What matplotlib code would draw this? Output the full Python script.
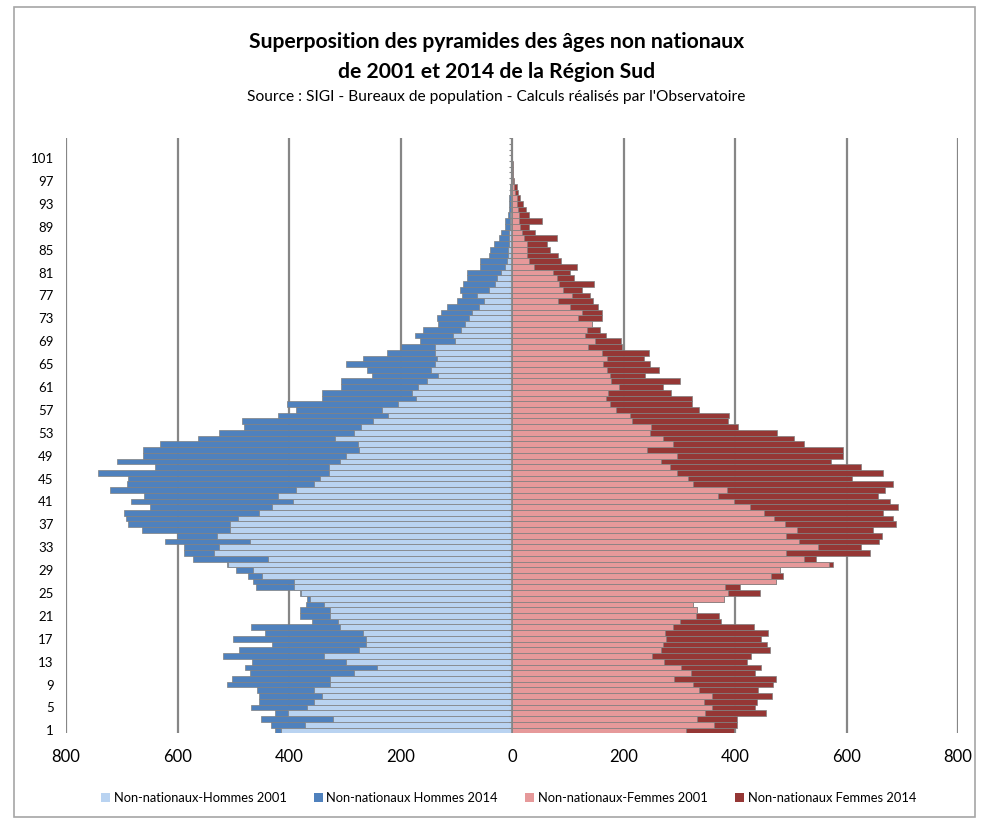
import numpy as np
import matplotlib
matplotlib.use("Agg")
import matplotlib.pyplot as plt
from matplotlib.ticker import FuncFormatter
from matplotlib.patches import Rectangle, Patch

plt.rcParams['font.family'] = ['Lato', 'DejaVu Sans']

# ages 1..104
ages = list(range(1, 105))

hommes_2001 = [
    414, 371, 322, 402, 368, 355, 340, 356, 326, 326, 283, 243, 298, 337, 274, 262, 262, 268, 308, 313, 326, 326, 337, 362,
    378, 391, 391, 449, 464, 509, 437, 534, 525, 470, 530, 505, 505, 491, 453, 430, 392, 420, 387, 356, 344, 329, 329, 308,
    297, 275, 277, 317,
    283, 271, 249, 222, 233, 204, 172, 180, 168, 152, 132, 145, 138, 135, 138, 138, 102, 106, 92, 84, 78, 71, 60, 51, 63, 42,
    30, 27, 20, 12, 9, 8, 7, 6, 6, 5, 4, 4, 3, 2, 2, 1, 1, 1, 0, 0, 0, 0, 0, 0, 0, 0]

hommes_2014 = [
    425, 433, 451, 425, 468, 453, 453, 457, 511, 502, 470, 479, 466, 518, 490, 430, 500, 444, 468, 358, 381, 380, 370, 367,
    380, 459, 464, 474, 495, 512, 572, 588, 588, 622, 601, 664, 689, 692, 696, 649, 683, 661, 722, 691, 688, 742, 640, 709,
    662, 662, 631, 563,
    525, 480, 484, 420, 387, 404, 340, 340, 307, 307, 252, 261, 297, 268, 224, 199, 165, 174, 159, 132, 135, 128, 117, 98, 90, 94,
    88, 81, 81, 57, 57, 41, 39, 32, 23, 19, 13, 12, 8, 6, 6, 5, 4, 3, 2, 2, 1, 1, 1, 0, 0, 0]

femmes_2001 = [
    312, 363, 331, 346, 359, 344, 358, 336, 324, 291, 321, 303, 273, 251, 267, 270, 276, 274, 289, 301, 330, 331, 325, 380,
    388, 382, 474, 464, 480, 569, 523, 491, 548, 514, 491, 511, 490, 469, 452, 427, 399, 370, 385, 324, 315, 295, 283, 268,
    295, 242, 289, 271,
    248, 249, 215, 212, 187, 176, 169, 173, 192, 178, 176, 170, 164, 171, 161, 137, 148, 131, 134, 143, 119, 125, 104, 83, 107, 92,
    85, 80, 74, 40, 30, 27, 26, 26, 22, 17, 14, 12, 12, 10, 9, 8, 5, 3, 2, 1, 1, 0, 0, 0, 0, 0]

femmes_2014 = [
    399, 403, 404, 455, 435, 440, 467, 442, 468, 474, 436, 447, 421, 428, 463, 457, 447, 459, 434, 374, 372, 331, 325, 380,
    444, 409, 474, 486, 480, 576, 545, 642, 626, 659, 664, 648, 688, 683, 666, 692, 678, 657, 669, 684, 609, 665, 626, 572,
    594, 594, 523, 506,
    475, 406, 388, 389, 335, 323, 323, 286, 271, 301, 239, 264, 248, 236, 246, 197, 195, 169, 157, 143, 161, 161, 155, 145, 140, 125,
    147, 112, 104, 116, 87, 83, 68, 62, 80, 42, 31, 53, 31, 25, 20, 15, 10, 8, 3, 2, 1, 1, 0, 0, 0, 0]

labels = ['Non-nationaux-Hommes 2001', 'Non-nationaux Hommes 2014',
          'Non-nationaux-Femmes 2001', 'Non-nationaux Femmes 2014']
colors = ['#B9D3F1', '#4F81BD', '#E6999A', '#953735']
edge = '#808080'

fig = plt.figure(figsize=(9.93, 8.22), dpi=100)
ax = fig.add_axes([0.0665, 0.108, 0.8983, 0.724])

y = np.array(ages)
# 2014 behind, 2001 in front
ax.barh(y, -np.array(hommes_2014), height=1.0, color=colors[1], edgecolor=edge, linewidth=0.5, zorder=2)
ax.barh(y, np.array(femmes_2014), height=1.0, color=colors[3], edgecolor=edge, linewidth=0.5, zorder=2)
ax.barh(y, -np.array(hommes_2001), height=1.0, color=colors[0], edgecolor=edge, linewidth=0.5, zorder=3)
ax.barh(y, np.array(femmes_2001), height=1.0, color=colors[2], edgecolor=edge, linewidth=0.5, zorder=3)

ax.set_xlim(-800, 800)
ax.set_ylim(0.5, len(ages) + 0.5)
ax.set_xticks(np.arange(-800, 801, 200))
ax.xaxis.set_major_formatter(FuncFormatter(lambda v, p: '%d' % abs(v)))
ax.grid(axis='x', color='#868686', linewidth=1.6, zorder=0)
ax.set_axisbelow(True)
for s in ax.spines.values():
    s.set_visible(False)

ax.set_yticks(ages[::4])
ax.set_yticklabels([str(a) for a in ages[::4]])
ax.tick_params(axis='y', length=0, labelsize=9.5, pad=9)
ax.tick_params(axis='x', length=0, labelsize=12, pad=11)

# central category axis with small ticks
ax.axvline(0, color='#868686', linewidth=1.2, zorder=4)
ax.hlines(y + 0.5, -6, 0, color='#868686', linewidth=0.8, zorder=4)

fig.text(0.5, 0.949, 'Superposition des pyramides des âges non nationaux',
         ha='center', va='center', fontsize=15.2, fontweight='bold')
fig.text(0.5, 0.912, 'de 2001 et 2014 de la Région Sud',
         ha='center', va='center', fontsize=15.2, fontweight='bold')
fig.text(0.5, 0.882, "Source : SIGI - Bureaux de population - Calculs réalisés par l'Observatoire",
         ha='center', va='center', fontsize=11.2)

handles = [Patch(facecolor=c, edgecolor='none') for c in colors]
fig.legend(handles, labels, loc='center', bbox_to_anchor=(0.512, 0.029), ncol=4,
           frameon=False, fontsize=9.3, handlelength=0.7, handleheight=0.7,
           handletextpad=0.3, columnspacing=2.1)

fig.patches.append(Rectangle((0.014, 0.006), 0.968, 0.985, transform=fig.transFigure,
                             fill=False, edgecolor='#A6A6A6', linewidth=1.2))

fig.savefig('out.png', dpi=100)
